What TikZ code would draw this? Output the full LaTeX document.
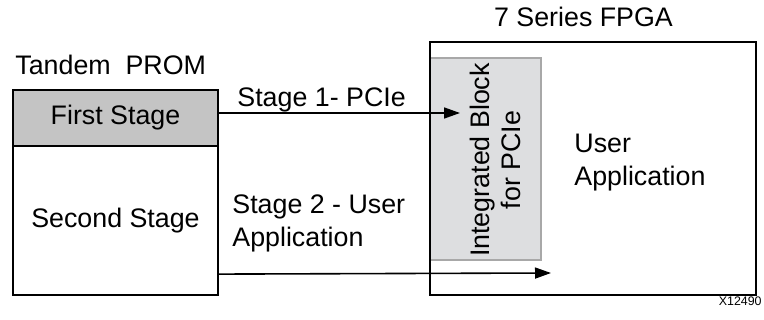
\documentclass[tikz,border=0pt]{standalone}
\usepackage{fontspec}
\setmainfont{Liberation Sans}
\usetikzlibrary{arrows.meta,positioning}
\definecolor{stagegray}{HTML}{C4C4C4}
\definecolor{blockgray}{HTML}{DDDEE0}
\definecolor{blockline}{HTML}{A8A8A8}

\begin{document}
\begin{tikzpicture}[x=0.5pt,y=-0.5pt,
  box/.style={draw,line width=1.1pt,inner sep=0pt,font=\fontsize{13.4}{16.5}\selectfont},
  lbl/.style={font=\fontsize{13.4}{16.5}\selectfont,inner sep=0pt},
  flow/.style={line width=0.8pt,-{Triangle[length=8pt,width=5.5pt]}}]
  \useasboundingbox (0,0) rectangle (764,320);
  % PROM側の2段
  \node[box,fill=stagegray,minimum width=102.5pt,minimum height=28pt] (first) at (115.5,118) {First Stage};
  \node[box,minimum width=102.5pt,minimum height=74.5pt] (second) at (115.5,220.5) {Second Stage};
  \node[lbl,anchor=base west] (prom) at (15,75) {Tandem\ \ PROM};
  % FPGA側：PCIeブロックを先に描き、外枠を上に重ねる
  \node[draw=blockline,fill=blockgray,line width=0.8pt,minimum width=55.5pt,minimum height=101pt] (pcie) at (485.5,159) {};
  \node[box,minimum width=163pt,minimum height=126.5pt] (fpga) at (593,168.5) {};
  \node[lbl,rotate=90,align=center,font=\fontsize{13.4}{15.5}\selectfont] (pcietxt) at (495,160) {Integrated Block\\for PCIe};
  \node[lbl,anchor=base] (fpgat) at (583.5,27) {7 Series FPGA};
  \node[lbl,anchor=north west,align=left] (ua) at (574,134) {User\\Application};
  % 転送の矢印
  \coordinate (s1end) at (460,113);
  \coordinate (s2end) at (551,273);
  \draw[flow] ([yshift=2.5pt]first.east) -- (s1end);
  \draw[flow] ([yshift=11pt]second.south east) -- (s2end);
  \node[lbl,anchor=base west] (s1) at (237,107) {Stage 1- PCIe};
  \node[lbl,anchor=north west,align=left] (s2) at (232,194) {Stage 2 - User\\Application};
  \node[font=\fontsize{6.2}{7}\selectfont,inner sep=0pt,anchor=base east] (fig) at (762,305) {X12490};
\end{tikzpicture}
\end{document}
